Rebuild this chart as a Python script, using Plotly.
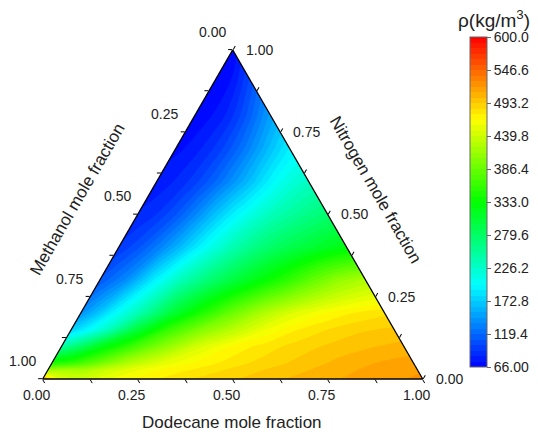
import numpy as np
import plotly.graph_objects as go

# ---------------- data ----------------
# rows: nitrogen mole fraction (top vertex = 1)
nitrogen = [0.0, 0.025, 0.05, 0.1, 0.15, 0.2, 0.3, 0.4, 0.5, 0.6, 0.7, 0.8, 0.9, 1.0]
# columns: dodecane share of the non-nitrogen part, D/(D+M)  (0 = left edge, 1 = right edge)
dodecane_share = [0.0, 0.05, 0.1, 0.2, 0.3, 0.4, 0.5, 0.6, 0.7, 0.8, 0.9, 1.0]

rho_N000 = [505, 450, 440, 462, 475, 485, 492, 500, 506, 512, 517, 522]
rho_N025 = [425, 425, 425, 450, 468, 478, 487, 495, 502, 509, 515, 519]
rho_N050 = [345, 355, 375, 420, 450, 468, 480, 489, 497, 505, 511, 515]
rho_N100 = [245, 275, 310, 360, 405, 445, 468, 480, 489, 496, 501, 505]
rho_N150 = [175, 197, 225, 300, 360, 400, 430, 458, 475, 485, 492, 495]
rho_N200 = [142, 165, 193, 245, 305, 350, 390, 425, 450, 466, 476, 482]
rho_N300 = [112, 125, 140, 190, 235, 270, 300, 328, 355, 385, 410, 425]
rho_N400 = [95, 102, 112, 140, 175, 210, 240, 265, 285, 300, 314, 325]
rho_N500 = [85, 88, 93, 110, 135, 165, 192, 215, 235, 250, 263, 275]
rho_N600 = [78, 80, 83, 92, 105, 122, 142, 163, 185, 205, 220, 230]
rho_N700 = [73, 74, 76, 82, 90, 100, 113, 128, 145, 162, 178, 192]
rho_N800 = [70, 70, 71, 74, 78, 84, 92, 102, 113, 125, 138, 150]
rho_N900 = [67, 67, 68, 69, 71, 74, 78, 83, 89, 95, 101, 108]
rho_N1000 = [66, 66, 66, 66, 66, 66, 66, 66, 66, 66, 66, 66]

rho_grid = [rho_N000, rho_N025, rho_N050, rho_N100, rho_N150, rho_N200, rho_N300,
            rho_N400, rho_N500, rho_N600, rho_N700, rho_N800, rho_N900, rho_N1000]

cbar_tickvals = [66.0, 119.4, 172.8, 226.2, 279.6, 333.0, 386.4, 439.8, 493.2, 546.6, 600.0]
cbar_ticktext = ["66.00", "119.4", "172.8", "226.2", "279.6", "333.0", "386.4",
                 "439.8", "493.2", "546.6", "600.0"]
frac_ticks = [0.0, 0.25, 0.5, 0.75, 1.0]
frac_ticktext = ["0.00", "0.25", "0.50", "0.75", "1.00"]
tern_tickvals = [0, 0.125, 0.25, 0.375, 0.5, 0.625, 0.75, 0.875, 1.0]

# ---------------- layout geometry ----------------
OFF = 8                      # default page body margin
W, H = 538 - OFF, 439 - OFF  # figure size so that it ends at the window edge
FONT = "Arial, Liberation Sans, sans-serif"
SQ3 = np.sqrt(3.0)


def fx(px):  # window pixel -> paper fraction
    return (px - OFF) / W


def fy(py):
    return 1 - (py - OFF) / H


left_px, bottom_px, tri_w = 42.7, 379.0, 380.0
tri_h = tri_w * SQ3 / 2
xdom = [fx(left_px), fx(left_px + tri_w)]
ydom = [fy(bottom_px), fy(bottom_px - tri_h)]


def comp_to_paper(n, d):
    """nitrogen / dodecane fractions -> paper coordinates of the triangle"""
    xc = d + n / 2
    yc = n * SQ3 / 2
    return (xdom[0] + xc * (xdom[1] - xdom[0]),
            ydom[0] + yc / (SQ3 / 2) * (ydom[1] - ydom[0]))


# ternary -> cartesian mapping of the composition grid (for the carpet)
Nn = np.array(nitrogen)[:, None]
Tt = np.array(dodecane_share)[None, :]
D = Tt * (1 - Nn)
X = D + Nn / 2
Y = np.repeat(Nn * SQ3 / 2, len(dodecane_share), axis=1)

rainbow = [[0.0, "rgb(0,0,255)"], [0.25, "rgb(0,255,255)"], [0.5, "rgb(0,255,0)"],
           [0.75, "rgb(255,255,0)"], [1.0, "rgb(255,0,0)"]]

hidden_caxis = dict(showgrid=False, showline=False, showticklabels="none",
                    startline=False, endline=False, minorgridcount=0, smoothing=0,
                    gridcolor="rgba(0,0,0,0)", linecolor="rgba(0,0,0,0)",
                    title=dict(text=""))

fig = go.Figure()
fig.add_trace(go.Carpet(carpet="c1", a=dodecane_share, b=nitrogen,
                        x=X.tolist(), y=Y.tolist(),
                        aaxis=hidden_caxis, baxis=hidden_caxis,
                        xaxis="x", yaxis="y"))
fig.add_trace(go.Contourcarpet(
    carpet="c1", a=dodecane_share, b=nitrogen, z=rho_grid,
    colorscale=rainbow, zmin=66, zmax=600, autocontour=False,
    contours=dict(start=66, end=600, size=(600 - 66) / 60, coloring="fill", showlines=False),
    line=dict(width=0),
    colorbar=dict(
        x=fx(470), xanchor="left", xpad=0, ypad=0,
        y=fy(202), yanchor="middle",
        len=330, lenmode="pixels", thickness=17, thicknessmode="pixels",
        outlinewidth=1, outlinecolor="#666",
        tickmode="array", tickvals=cbar_tickvals, ticktext=cbar_ticktext,
        ticks="outside", ticklen=4, tickcolor="#666",
        tickfont=dict(family=FONT, size=14, color="#222"),
    ),
))
fig.add_trace(go.Scatterternary(a=[], b=[], c=[], mode="markers",
                                showlegend=False, hoverinfo="skip"))

tern_axis = dict(showgrid=False, showline=True, linecolor="black", linewidth=1.3,
                 ticks="outside", ticklen=4, tickwidth=1, tickcolor="black",
                 tickmode="array", tickvals=tern_tickvals, showticklabels=False,
                 title=dict(text=""), min=0)

tick_font = dict(family=FONT, size=14, color="#222")
ann = []
for v, txt in zip(frac_ticks, frac_ticktext):
    # Methanol (left edge): dodecane = 0, nitrogen = 1 - methanol
    px, py = comp_to_paper(1 - v, 0.0)
    ann.append(dict(text=txt, x=px, y=py, xanchor="right", yanchor="middle",
                    xshift=-5, yshift=18, font=tick_font))
    # Dodecane (bottom edge): nitrogen = 0
    px, py = comp_to_paper(0.0, v)
    ann.append(dict(text=txt, x=px, y=py, xanchor="center", yanchor="middle",
                    xshift=-6, yshift=-16, font=tick_font))
    # Nitrogen (right edge): methanol = 0
    px, py = comp_to_paper(v, 1 - v)
    ann.append(dict(text=txt, x=px, y=py, xanchor="left", yanchor="middle",
                    xshift=11, yshift=0, font=tick_font))

ann_font = dict(family=FONT, size=17, color="#222")
ann += [
    dict(text="Methanol mole fraction", x=fx(77), y=fy(199), textangle=-60,
         xanchor="center", yanchor="middle", font=ann_font),
    dict(text="Nitrogen mole fraction", x=fx(375), y=fy(190), textangle=60,
         xanchor="center", yanchor="middle", font=ann_font),
    dict(text="Dodecane mole fraction", x=fx(232), y=fy(422),
         xanchor="center", yanchor="middle", font=ann_font),
    dict(text="ρ(kg/m<sup>3</sup>)", x=fx(494), y=fy(19),
         xanchor="center", yanchor="middle",
         font=dict(family=FONT, size=19, color="#222")),
]

fig.update_layout(
    width=W, height=H, template="none",
    margin=dict(l=0, r=0, t=0, b=0, autoexpand=False),
    paper_bgcolor="white", plot_bgcolor="rgba(0,0,0,0)",
    showlegend=False,
    xaxis=dict(domain=xdom, range=[0, 1], visible=False, fixedrange=True),
    yaxis=dict(domain=ydom, range=[0, SQ3 / 2], visible=False, fixedrange=True),
    ternary=dict(domain=dict(x=xdom, y=ydom), sum=1, bgcolor="rgba(0,0,0,0)",
                 aaxis=tern_axis, baxis=tern_axis, caxis=tern_axis),
    annotations=ann,
)
fig.update_annotations(xref="paper", yref="paper", showarrow=False)

fig.write_html("out.html")
